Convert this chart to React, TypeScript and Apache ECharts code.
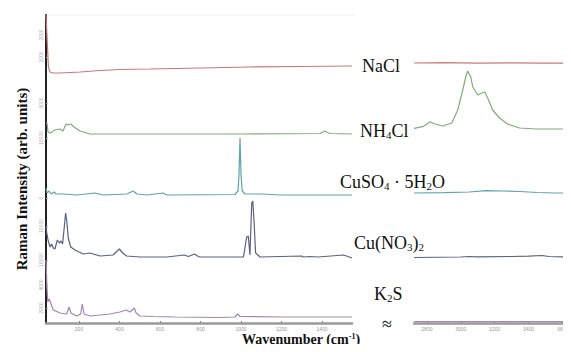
import React, { useEffect, useRef } from "react";
import * as echarts from "echarts";

// ---- axis ranges / ticks ----
const leftRange = [37, 1548];
const rightRange = [2724, 3647];
const leftTicks = [200, 400, 600, 800, 1000, 1200, 1400];
const rightTicks = [2800, 3000, 3200, 3400, 3600];
const yMax = 308;
// decorative per-spectrum intensity ticks (stacked display units)
const yTickValues = [288, 266, 220, 185, 125, 97, 63, 38, 15];
const yTickLabels = ["2000", "1000", "5000", "10000", "0", "10000", "10000", "4000", "2000"];

// ---- spectra: [wavenumber, intensity above own baseline] ----
const naclOffset = 250;
const naclLeft = [[37, 58], [49, 6], [57, 1], [72, 0], [106, 0], [205, 1], [304, 2.5], [402, 3.5], [551, 4], [798, 5], [1044, 6], [1291, 6.5], [1548, 7]];
const naclRight = [[2724, 10], [2900, 10.3], [3100, 9.8], [3300, 10.2], [3500, 9.9], [3647, 10]];

const nh4clOffset = 189;
const nh4clLeft = [[37, 11], [42, 11], [47, 2], [57, 1], [81, 4], [106, 5], [121, 3], [136, 10], [146, 9], [160, 10], [175, 7], [205, 3], [254, 0], [600, 0], [1000, 0], [1390, 0.5], [1405, 2], [1415, 3], [1425, 1.5], [1440, 0.5], [1548, 0]];
const nh4clRight = [[2724, 5.7], [2776, 7.3], [2800, 10], [2818, 12.3], [2847, 10], [2894, 8], [2947, 11], [2982, 24], [3012, 44], [3029, 57], [3041, 63], [3059, 57], [3071, 47], [3100, 39], [3124, 41], [3141, 42], [3159, 36], [3188, 24], [3229, 16], [3276, 10], [3347, 6], [3447, 5], [3541, 5], [3647, 5]];

const cuso4Offset = 128;
const cuso4Left = [[37, 7], [42, 2], [52, 4], [62, 1], [77, 3], [86, 1], [121, 1], [190, 0], [279, 2], [319, 0], [437, 1], [467, 4], [486, 1], [536, 0], [615, 2], [634, 0], [970, 0.5], [985, 4], [990, 20], [995, 57], [1000, 20], [1006, 4], [1020, 1], [1100, 1], [1200, 0], [1548, 0]];
const cuso4Right = [[2724, 2], [2900, 2.3], [3050, 3], [3150, 4.3], [3250, 4], [3350, 3.5], [3450, 2.5], [3550, 2], [3647, 2]];

const cuno3Offset = 65;
const cuno3Left = [[37, 31], [41, 25], [48, 17], [57, 11], [65, 14], [73, 10], [81, 9], [93, 18], [103, 15], [111, 17], [119, 14], [134, 45], [139, 38], [147, 20], [159, 11], [180, 8], [221, 4], [254, 5], [304, 2], [368, 3], [399, 9], [416, 5], [435, 2], [501, 1], [633, 1], [720, 3], [740, 1.5], [770, 4], [789, 1.5], [798, 1], [1012, 1], [1028, 21], [1036, 22], [1044, 3], [1053, 55], [1058, 57], [1064, 38], [1072, 5], [1094, 1], [1300, 2], [1306, 1], [1340, 1.5], [1380, 1], [1505, 3], [1521, 2], [1548, 0]];
const cuno3Right = [[2724, 0.5], [3000, 1], [3050, 1.5], [3100, 1.2], [3300, 1.5], [3400, 1.8], [3480, 2.5], [3520, 1.5], [3647, 1]];

const k2sOffset = 5;
const k2sLeft = [[37, 58], [42, 30], [46, 16], [53, 19], [60, 15], [73, 8], [106, 5], [139, 4], [151, 11], [160, 5], [189, 2], [208, 4], [216, 14], [225, 4], [254, 2], [304, 3], [353, 4], [402, 6], [432, 8], [452, 6], [473, 10], [482, 5], [501, 2], [567, 1.5], [674, 1], [900, 0.5], [970, 1], [983, 4], [995, 1.5], [1200, 1], [1548, 1]];
const k2sRight = [[2724, -3.5], [3200, -3.5], [3647, -3.5]];

const spectra = [
  { name: "NaCl", color: "#c77a78", offset: naclOffset, left: naclLeft, right: naclRight },
  { name: "NH4Cl", color: "#7fae75", offset: nh4clOffset, left: nh4clLeft, right: nh4clRight },
  { name: "CuSO4·5H2O", color: "#5fa3ab", offset: cuso4Offset, left: cuso4Left, right: cuso4Right },
  { name: "Cu(NO3)2", color: "#5b6184", offset: cuno3Offset, left: cuno3Left, right: cuno3Right },
  { name: "K2S", color: "#a584b5", offset: k2sOffset, left: k2sLeft, right: k2sRight },
];

// labels (rich text)
const labelTexts = [
  "NaCl",
  "NH{s|4}Cl",
  "CuSO{s|4} · 5H{s|2}O",
  "Cu(NO{s|3}){s|2}",
  "K{s|2}S",
  "≈",
];

const SERIF = '"Liberation Serif", "Times New Roman", serif';

export default function App() {
  const ref = useRef<HTMLDivElement>(null);
  useEffect(() => {
    if (!ref.current) return;
    const chart = echarts.init(ref.current, null, { renderer: "svg" });
    const series: any[] = [];
    spectra.forEach((s) => {
      series.push({
        type: "line", xAxisIndex: 0, yAxisIndex: 0, showSymbol: false, silent: true,
        data: s.left.map(([x, v]) => [x, v + s.offset]),
        lineStyle: { color: s.color, width: 1.2 },
      });
      series.push({
        type: "line", xAxisIndex: 1, yAxisIndex: 1, showSymbol: false, silent: true,
        data: s.right.map(([x, v]) => [x, v + s.offset]),
        lineStyle: { color: s.color, width: 1.2 },
      });
    });
    const rich = {
      s: { fontFamily: SERIF, fontSize: 11, color: "#111", lineHeight: 7, verticalAlign: "bottom" },
    };
    const labelPos = [
      [362, 66], [360, 131], [340, 182], [354, 243], [374, 294], [382, 324],
    ];
    const graphic: any[] = labelTexts.map((t, i) => ({
      type: "text", x: labelPos[i][0], y: labelPos[i][1], silent: true,
      style: {
        text: t,
        fontFamily: SERIF, fontSize: 18, fill: "#111",
        verticalAlign: "middle", rich,
      },
    }));
    graphic.push({
      type: "text", x: 22, y: 179, rotation: Math.PI / 2, silent: true,
      style: {
        text: "Raman Intensity (arb. units)", fontFamily: SERIF, fontWeight: "bold",
        fontSize: 15, fill: "#111", align: "center", verticalAlign: "middle",
      },
    });
    graphic.push({
      type: "text", x: 301, y: 339, silent: true,
      style: {
        text: "Wavenumber (cm{sup|-1})", fontFamily: SERIF, fontWeight: "bold",
        fontSize: 14, fill: "#111", align: "center", verticalAlign: "middle",
        rich: { sup: { fontFamily: SERIF, fontWeight: "bold", fontSize: 8, verticalAlign: "top", fill: "#111" } },
      },
    });
    graphic.push({
      type: "line", silent: true,
      shape: { x1: 46, y1: 15, x2: 355, y2: 15 },
      style: { stroke: "#eeeeee", lineWidth: 1 },
    });

    const xCommon = (ticks: number[]) => ({
      type: "value",
      axisLine: { show: true, onZero: false, lineStyle: { color: "#999", width: 2.5 } },
      axisTick: { show: true, inside: true, length: 2, customValues: ticks, lineStyle: { color: "#888" } },
      axisLabel: { fontSize: 5, color: "#999", margin: 3, customValues: ticks, formatter: (v: number) => String(v) },
      splitLine: { show: false },
    });

    chart.setOption({
      animation: false,
      backgroundColor: "#fff",
      grid: [
        { left: 46, top: 15, width: 306, height: 308 },
        { left: 414, top: 15, width: 157, height: 308 },
      ],
      xAxis: [
        { ...xCommon(leftTicks), gridIndex: 0, min: leftRange[0], max: leftRange[1] },
        { ...xCommon(rightTicks), gridIndex: 1, min: rightRange[0], max: rightRange[1] },
      ],
      yAxis: [
        {
          type: "value", gridIndex: 0, min: 0, max: yMax,
          axisLine: { show: true, lineStyle: { color: "#222", width: 2 } },
          axisTick: { show: true, inside: true, length: 2, customValues: yTickValues, lineStyle: { color: "#aaa" } },
          axisLabel: {
            show: true, fontSize: 5, color: "#aaa", rotate: 90, margin: 3,
            customValues: yTickValues,
            formatter: (v: number) => {
              const i = yTickValues.indexOf(v);
              return i >= 0 ? yTickLabels[i] : "";
            },
          },
          splitLine: { show: false },
        },
        {
          type: "value", gridIndex: 1, min: 0, max: yMax, show: false,
        },
      ],
      series,
      graphic,
    });
    return () => chart.dispose();
  }, []);
  return <div ref={ref} style={{ width: 571, height: 352, margin: -8 }} />;
}
